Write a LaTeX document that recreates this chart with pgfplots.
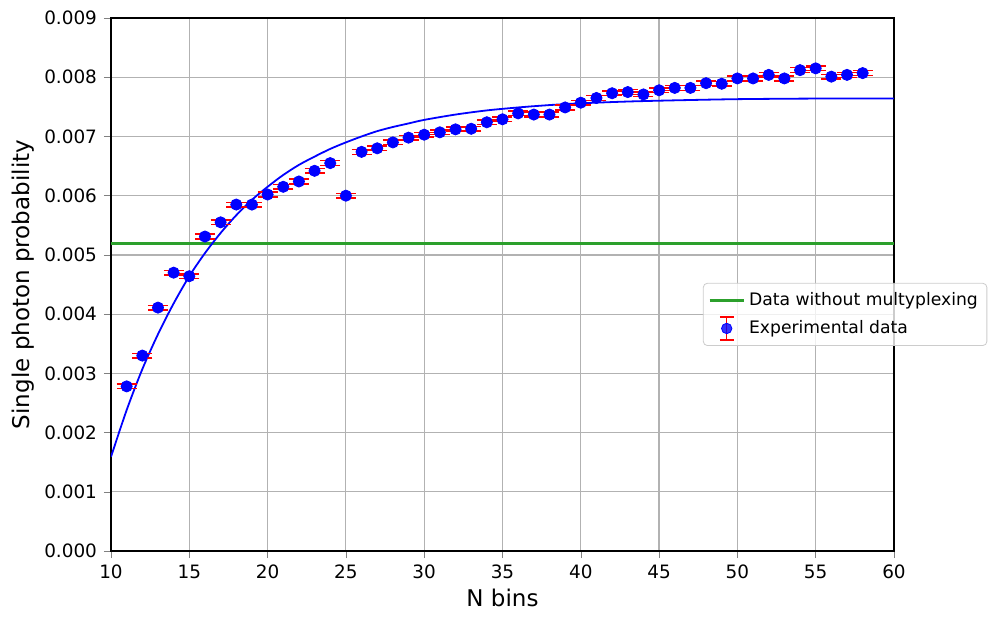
\documentclass[border=0pt]{standalone}
\usepackage{fontspec}
\setmainfont{DejaVu Sans}
\usepackage{pgfplots}
\pgfplotsset{compat=1.18}
\definecolor{mplgreen}{HTML}{2CA02C}
\begin{document}
\begin{tikzpicture}
\useasboundingbox (-55.5pt,-36pt) rectangle (442.5pt,275.5pt);
\begin{axis}[
  scale only axis,
  width=391.5pt, height=266.5pt,
  xmin=10, xmax=60, ymin=0, ymax=0.009,
  xtick={10,15,20,25,30,35,40,45,50,55,60},
  ytick={0,0.001,0.002,0.003,0.004,0.005,0.006,0.007,0.008,0.009},
  scaled y ticks=false,
  yticklabel style={/pgf/number format/.cd, fixed, fixed zerofill, precision=3},
  /pgf/number format/assume math mode=true,
  tick label style={font=\fontsize{9.2}{11}\selectfont},
  tick align=outside, tick pos=left,
  major tick length=3.5pt,
  grid=major,
  major grid style={draw=black!30, line width=0.6pt},
  axis line style={line width=0.6pt},
  xlabel={N bins}, ylabel={Single photon probability},
  label style={font=\fontsize{11.5}{13}\selectfont},
  xlabel style={yshift=2pt},
  ylabel style={yshift=-2pt},
  legend style={at={(rel axis cs:0.756,0.503)}, anchor=north west,
    font=\fontsize{8.6}{10}\selectfont, draw=black!20, rounded corners=2pt,
    fill=white, fill opacity=0.8, text opacity=1,
    inner sep=2.5pt, row sep=2pt},
  legend cell align=left,
]
\addplot[mplgreen, line width=1.3pt, forget plot] coordinates {(10,0.00519) (60,0.00519)};
\addplot[blue, line width=0.9pt, smooth, forget plot] coordinates {
(10,0.00159) (11,0.00238) (12,0.00307) (13,0.00366) (14,0.00418) (15,0.00464)
(16,0.00503) (17,0.00537) (18,0.00567) (19,0.00593) (20,0.00615) (21,0.00635)
(22,0.00652) (23,0.00666) (24,0.00679) (25,0.00690) (26,0.00700) (27,0.00709)
(28,0.00716) (29,0.00722) (30,0.00728) (32,0.00737) (34,0.00744) (36,0.00749)
(38,0.00753) (40,0.00756) (43,0.00759) (46,0.00761) (50,0.00763) (55,0.00764) (60,0.00764)};
\addlegendimage{mplgreen, line width=1.3pt}
\addlegendentry{Data without multyplexing}
\addplot[only marks, mark=*, mark size=2.8pt, blue, mark options={draw=blue, fill=blue},
  legend image code/.code={
    \draw[red, line width=0.7pt] (0.3cm,-0.2cm) -- (0.3cm,0.2cm);
    \draw[red, line width=0.7pt] (0.18cm,-0.2cm) -- (0.42cm,-0.2cm);
    \draw[red, line width=0.7pt] (0.18cm,0.2cm) -- (0.42cm,0.2cm);
    \fill[blue] (0.3cm,0cm) circle (2.6pt);
  },
  error bars/.cd, y dir=both, y explicit,
  error bar style={red, line width=0.7pt},
  error mark options={red, line width=0.7pt, mark size=5pt, rotate=90}]
coordinates {
(11,0.00278) +- (0,0.00004) (12,0.00330) +- (0,0.00004) (13,0.00411) +- (0,0.00004)
(14,0.00470) +- (0,0.00004) (15,0.00464) +- (0,0.00004) (16,0.00531) +- (0,0.00004)
(17,0.00555) +- (0,0.00004) (18,0.00585) +- (0,0.00004) (19,0.00585) +- (0,0.00004)
(20,0.00602) +- (0,0.00004) (21,0.00615) +- (0,0.00004) (22,0.00624) +- (0,0.00004)
(23,0.00642) +- (0,0.00004) (24,0.00655) +- (0,0.00004) (25,0.00600) +- (0,0.00004)
(26,0.00674) +- (0,0.00004) (27,0.00680) +- (0,0.00004) (28,0.00690) +- (0,0.00004)
(29,0.00698) +- (0,0.00004) (30,0.00703) +- (0,0.00004) (31,0.00707) +- (0,0.00004)
(32,0.00712) +- (0,0.00004) (33,0.00713) +- (0,0.00004) (34,0.00724) +- (0,0.00004)
(35,0.00729) +- (0,0.00004) (36,0.00739) +- (0,0.00004) (37,0.00737) +- (0,0.00004)
(38,0.00737) +- (0,0.00004) (39,0.00749) +- (0,0.00004) (40,0.00757) +- (0,0.00004)
(41,0.00765) +- (0,0.00004) (42,0.00773) +- (0,0.00004) (43,0.00775) +- (0,0.00004)
(44,0.00771) +- (0,0.00004) (45,0.00778) +- (0,0.00004) (46,0.00782) +- (0,0.00004)
(47,0.00782) +- (0,0.00004) (48,0.00790) +- (0,0.00004) (49,0.00789) +- (0,0.00004)
(50,0.00798) +- (0,0.00004) (51,0.00798) +- (0,0.00004) (52,0.00804) +- (0,0.00004)
(53,0.00798) +- (0,0.00004) (54,0.00812) +- (0,0.00004) (55,0.00815) +- (0,0.00004)
(56,0.00801) +- (0,0.00004) (57,0.00804) +- (0,0.00004) (58,0.00807) +- (0,0.00004)};
\addlegendentry{Experimental data}
\end{axis}
\end{tikzpicture}
\end{document}
